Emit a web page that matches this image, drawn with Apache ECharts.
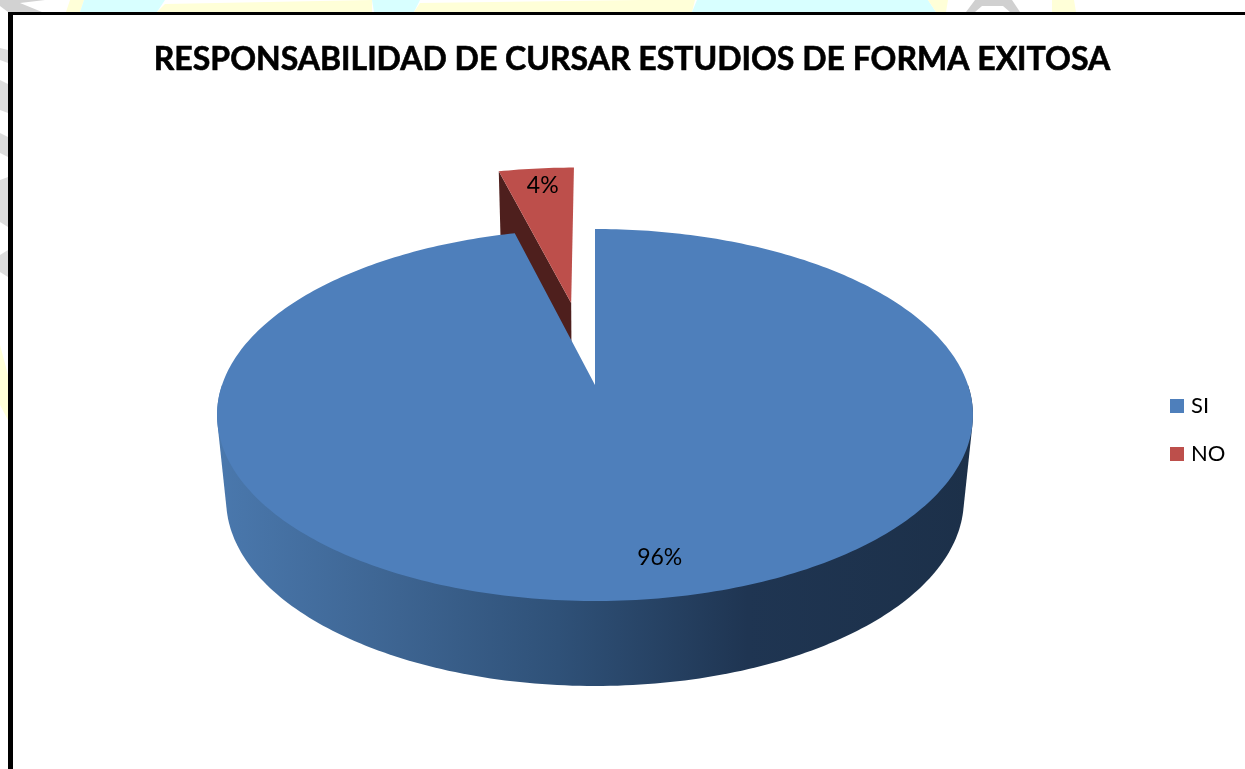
<!DOCTYPE html>
<html>
<head>
<meta charset="utf-8">
<style>html,body{margin:0;padding:0;background:#fff}#c{width:1245px;height:769px}</style>
<script src="https://cdn.jsdelivr.net/npm/echarts@6/dist/echarts.min.js"></script>
</head>
<body>
<div id="c"></div>
<script>
const titleText = 'RESPONSABILIDAD DE CURSAR ESTUDIOS DE FORMA EXITOSA';
const categories = ['SI', 'NO'];
const values = [96, 4];
const colors = ['#4e7fbb', '#bd4f4b'];

// Perspective layout of the tilted disc (unit circle -> screen)
const CX = 595, K = 373, K_LOW = 364, A = -119.06, B = 385, C = 0.1613, DEPTH = 85;
const EXPLODE = [0, 0.492];
const SLICE_DX = [0, -2.5];
const LABEL_R = [0.83, 0.87];
const LABEL_NUDGE = [[20, 1], [2.5, 2]];
const total = values.reduce((a, b) => a + b, 0);

function project(u, v, low) {
  const den = 1 + C * v;
  return [CX + (low ? K_LOW : K) * u / den, (A * v + B) / den + (low ? DEPTH : 0)];
}
function sliceAngles(i) {
  let before = 0;
  for (let j = 0; j < i; j++) before += values[j];
  return [before / total * 2 * Math.PI, (before + values[i]) / total * 2 * Math.PI];
}
function point(i, ang, r, low) {
  const a = sliceAngles(i), mid = (a[0] + a[1]) / 2, e = EXPLODE[i];
  const p = project(e * Math.sin(mid) + r * Math.sin(ang), e * Math.cos(mid) + r * Math.cos(ang), low);
  return [p[0] + SLICE_DX[i], p[1]];
}
function rim(i, low) {
  const a = sliceAngles(i), pts = [], n = Math.max(6, Math.round((a[1] - a[0]) * 60));
  for (let k = 0; k <= n; k++) pts.push(point(i, a[0] + (a[1] - a[0]) * k / n, 1, low));
  return pts;
}
function hull(pts) {
  const p = pts.slice().sort((a, b) => a[0] - b[0] || a[1] - b[1]);
  const cross = (o, a, b) => (a[0] - o[0]) * (b[1] - o[1]) - (a[1] - o[1]) * (b[0] - o[0]);
  const lo = [], up = [];
  for (const q of p) { while (lo.length > 1 && cross(lo[lo.length - 2], lo[lo.length - 1], q) <= 0) lo.pop(); lo.push(q); }
  for (const q of p.slice().reverse()) { while (up.length > 1 && cross(up[up.length - 2], up[up.length - 1], q) <= 0) up.pop(); up.push(q); }
  return lo.slice(0, -1).concat(up.slice(0, -1));
}
const frontGradient = new echarts.graphic.LinearGradient(217, 0, 975, 0, [
  { offset: 0, color: '#4a78ad' },
  { offset: 0.24, color: '#3d6491' },
  { offset: 0.45, color: '#2f5178' },
  { offset: 0.7, color: '#1f3552' },
  { offset: 1, color: '#1c3049' }
], true);

function renderSlice(i) {
  return function (params, api) {
    const a = sliceAngles(i), children = [];
    const apexTop = point(i, 0, 0, false), apexLow = point(i, 0, 0, true);
    const top = rim(i, false), low = rim(i, true);
    if (i === 0) {
      const front = [];
      for (let k = 0; k <= 180; k++) {
        const t = Math.PI / 2 + Math.PI * k / 180;
        front.push(project(Math.sin(t), Math.cos(t), false), project(Math.sin(t), Math.cos(t), true));
      }
      children.push({ type: 'polygon', shape: { points: hull(front) }, style: { fill: frontGradient } });
    } else {
      children.push({ type: 'polygon', shape: { points: [apexTop, top[0], low[0], apexLow] }, style: { fill: '#4e1f1d' } });
    }
    children.push({ type: 'polygon', shape: { points: [apexTop].concat(top) }, style: { fill: api.visual('color') } });
    const mid = (a[0] + a[1]) / 2;
    const lp = point(i, mid, LABEL_R[i], false);
    children.push({
      type: 'text', x: lp[0] + LABEL_NUDGE[i][0], y: lp[1] + LABEL_NUDGE[i][1],
      style: { text: Math.round(api.value(0) / total * 100) + '%', fill: '#000', font: '23px Lato', align: 'center', verticalAlign: 'middle' }
    });
    return { type: 'group', children };
  };
}

const decor = [
  ['#d2d2d2', [[0, 0], [45, 0], [20, 3], [42, 12], [8, 12], [0, 6]]],
  ['#ffffd8', [[70, 0], [84, 0], [80, 12], [66, 12]]],
  ['#d8ffff', [[84, 0], [165, 0], [157, 12], [80, 12]]],
  ['#ffffd8', [[165, 4], [372, 0], [372, 12], [157, 12]]],
  ['#d8ffff', [[372, 0], [420, 0], [414, 12], [374, 12]]],
  ['#ffffd8', [[420, 3], [640, 0], [695, 0], [692, 12], [414, 12]]],
  ['#d8ffff', [[697, 0], [928, 0], [936, 12], [692, 12]]],
  ['#ffffd8', [[928, 0], [948, 0], [946, 12], [936, 12]]],
  ['#d0d0d0', [[966, 12], [975, 0], [1012, 0], [1020, 12], [1010, 12], [1003, 6], [982, 6], [975, 12]]],
  ['#ffffd8', [[1052, 0], [1074, 0], [1076, 12], [1052, 12]]],
  ['#dcdcdc', [[0, 48], [8, 50], [8, 63], [0, 60]]],
  ['#dcdcdc', [[0, 80], [8, 84], [8, 113], [0, 110]]],
  ['#dcdcdc', [[0, 133], [8, 137], [8, 157], [0, 153]]],
  ['#dcdcdc', [[0, 180], [8, 177], [8, 227], [0, 222]]],
  ['#dcdcdc', [[0, 255], [8, 250], [8, 277], [0, 272]]],
  ['#ffffd8', [[0, 345], [8, 375], [8, 420], [0, 405]]]
];
const graphics = decor.map(d => ({ type: 'polygon', silent: true, shape: { points: d[1] }, style: { fill: d[0] } }));
graphics.push(
  { type: 'rect', silent: true, shape: { x: 8, y: 12, width: 1237, height: 3 }, style: { fill: '#000' } },
  { type: 'rect', silent: true, shape: { x: 8, y: 12, width: 5, height: 757 }, style: { fill: '#000' } }
);

const chart = echarts.init(document.getElementById('c'), null, { renderer: 'canvas' });
chart.setOption({
  animation: false,
  backgroundColor: '#fff',
  title: {
    text: titleText, left: 627, top: 39, textAlign: 'center',
    textStyle: { fontFamily: 'Lato', fontWeight: 'bold', fontSize: 32, color: '#000', textBorderColor: '#000', textBorderWidth: 0.6 }
  },
  legend: {
    data: categories, orient: 'vertical', left: 1165, top: 390, icon: 'rect',
    itemWidth: 14, itemHeight: 14, itemGap: 26, selectedMode: false,
    textStyle: { fontFamily: 'Lato', fontSize: 22, color: '#000', padding: [0, 0, 0, 2] }
  },
  graphic: graphics,
  series: categories.map((name, i) => ({
    type: 'custom', name, coordinateSystem: 'none', clip: false,
    z: i === 0 ? 3 : 2, silent: true,
    itemStyle: { color: colors[i] },
    data: [[values[i]]],
    renderItem: renderSlice(i)
  }))
});
</script>
</body>
</html>
